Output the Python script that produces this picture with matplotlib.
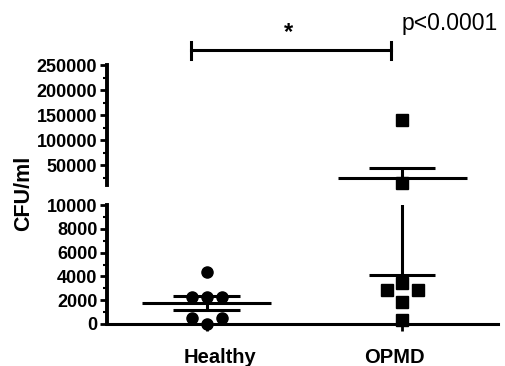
import numpy as np
import matplotlib
matplotlib.use('Agg')
import matplotlib.pyplot as plt
from matplotlib.ticker import MultipleLocator

plt.rcParams['font.family'] = ['Liberation Sans', 'DejaVu Sans']

groups = ["Healthy", "OPMD"]
healthy = [4400, 2300, 2300, 2300, 500, 500, 0]
healthy_jit = [0, -0.077, 0, 0.077, -0.077, 0.077, 0]
opmd = [140000, 14000, 3450, 2850, 2850, 1850, 350]
opmd_jit = [0, 0, 0, -0.08, 0.08, 0, 0]
p_text = "p<0.0001"

W, H = 506, 366
fig = plt.figure(figsize=(W / 100, H / 100), dpi=100)
left, right = 107 / W, 498 / W
ax_lo = fig.add_axes([left, (H - 324) / H, right - left, 119 / H])
ax_hi = fig.add_axes([left, (H - 185) / H, right - left, 120 / H])

lw = 2.2
for ax in (ax_lo, ax_hi):
    ax.set_xlim(0.49, 2.49)
    ax.spines['top'].set_visible(False)
    ax.spines['right'].set_visible(False)
    ax.spines['left'].set_linewidth(2.8)
    ax.spines['bottom'].set_linewidth(2.2)
    ax.tick_params(axis='y', width=2, length=5, labelsize=13, pad=2)
    ax.tick_params(axis='y', which='minor', width=1.5, length=3)

ax_lo.set_ylim(0, 10000)
ax_lo.yaxis.set_major_locator(MultipleLocator(2000))
ax_lo.yaxis.set_minor_locator(MultipleLocator(1000))
ax_lo.set_xticks([1, 2])
ax_lo.set_xticklabels([])
ax_lo.tick_params(axis='x', width=2, length=5)
for t in ax_lo.get_yticklabels():
    t.set_fontweight('bold')

# group labels sit a little off their ticks in the original
for gx, name in zip([1.07, 1.96], groups):
    ax_lo.text(gx, -3300, name, ha='center', va='baseline',
               fontsize=14.5, fontweight='bold', clip_on=False)

ax_hi.set_ylim(10000, 250000)
ax_hi.set_yticks([50000, 100000, 150000, 200000, 250000])
ax_hi.yaxis.set_minor_locator(MultipleLocator(25000))
ax_hi.spines['bottom'].set_visible(False)
ax_hi.set_xticks([])
for t in ax_hi.get_yticklabels():
    t.set_fontweight('bold')
ax_hi.patch.set_alpha(0)

# points, mean and SEM
for i, (vals, jit, mk, ms) in enumerate([(healthy, healthy_jit, 'o', 8),
                                         (opmd, opmd_jit, 's', 8)]):
    x = i + 1
    v = np.array(vals, dtype=float)
    mean = v.mean()
    sem = v.std(ddof=1) / np.sqrt(len(v))
    for ax in (ax_lo, ax_hi):
        ax.hlines(mean, x - 0.33, x + 0.33, color='black', lw=lw)
        ax.hlines([mean - sem, mean + sem], x - 0.17, x + 0.17, color='black', lw=lw)
        ax.vlines(x, mean - sem, mean + sem, color='black', lw=lw)
    lo_mask = v <= 10000
    ax_lo.plot(x + np.array(jit)[lo_mask], v[lo_mask], mk, color='black',
               ms=ms, clip_on=False, zorder=5)
    ax_hi.plot(x + np.array(jit)[~lo_mask], v[~lo_mask], mk, color='black',
               ms=ms, clip_on=False, zorder=5)

# significance bracket
by = 280000
bx0, bx1 = 0.92, 1.945
ax_hi.plot([bx0, bx1], [by, by], color='black', lw=lw, clip_on=False)
ax_hi.plot([bx0, bx0], [by - 17000, by + 17000], color='black', lw=lw, clip_on=False)
ax_hi.plot([bx1, bx1], [by - 17000, by + 17000], color='black', lw=lw, clip_on=False)
ax_hi.text(1.42, by + 12000, "*", ha='center', va='bottom', fontsize=17, fontweight='bold')
ax_hi.text(1.995, 334000, p_text, ha='left', va='center', fontsize=16.5)

fig.text(24 / W, (H - 193) / H, "CFU/ml", rotation=90, ha='center', va='center',
         fontsize=15.5, fontweight='bold')

fig.savefig("out.png", dpi=100)
